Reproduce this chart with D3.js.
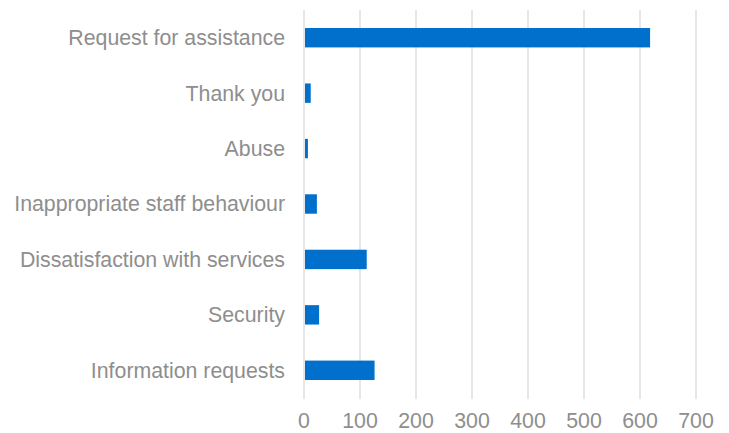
<!DOCTYPE html>
<html>
<head>
<meta charset="utf-8">
<script src="https://cdn.jsdelivr.net/npm/d3@7"></script>
<style>
  body { margin: 0; background: #fff; overflow: hidden; }
  svg { display: block; }
  text { font-family: "Liberation Sans", Arial, sans-serif; fill: #8e8e8e; }
</style>
</head>
<body>
<div id="chart"></div>
<script>
// categories, top to bottom
var categories = ["Request for assistance", "Thank you", "Abuse", "Inappropriate staff behaviour",
                  "Dissatisfaction with services", "Security", "Information requests"];
var counts = [618, 12, 7, 23, 112, 27, 126];
var xTicks = [0, 100, 200, 300, 400, 500, 600, 700];

var width = 729, height = 433;
var svg = d3.select("#chart").append("svg")
    .attr("width", width)
    .attr("height", height);

var x = d3.scaleLinear().domain([0, 700]).range([304, 696]);
var y = d3.scaleBand().domain(categories).range([10, 398])
    .paddingInner(0.65).paddingOuter(0.325);

// gridlines
svg.append("g")
  .selectAll("line")
  .data(xTicks)
  .join("line")
    .attr("x1", function(d) { return x(d); })
    .attr("x2", function(d) { return x(d); })
    .attr("y1", 10)
    .attr("y2", 399)
    .attr("stroke", "#d9d9d9")
    .attr("stroke-width", 1.3);

// bars
svg.append("g")
  .selectAll("rect")
  .data(categories)
  .join("rect")
    .attr("x", x(0) + 1)
    .attr("y", function(d) { return y(d); })
    .attr("width", function(d, i) { return x(counts[i]) - x(0) - 1; })
    .attr("height", y.bandwidth())
    .attr("fill", "#0070cc");

// category labels
svg.append("g")
  .selectAll("text")
  .data(categories)
  .join("text")
    .attr("x", 285)
    .attr("y", function(d) { return y(d) + y.bandwidth() / 2; })
    .attr("dy", "0.35em")
    .attr("text-anchor", "end")
    .style("font-size", "21.3px")
    .text(function(d) { return d; });

// x tick labels
svg.append("g")
  .selectAll("text")
  .data(xTicks)
  .join("text")
    .attr("x", function(d) { return x(d); })
    .attr("y", 428)
    .attr("text-anchor", "middle")
    .style("font-size", "21.3px")
    .text(function(d) { return d; });
</script>
</body>
</html>
